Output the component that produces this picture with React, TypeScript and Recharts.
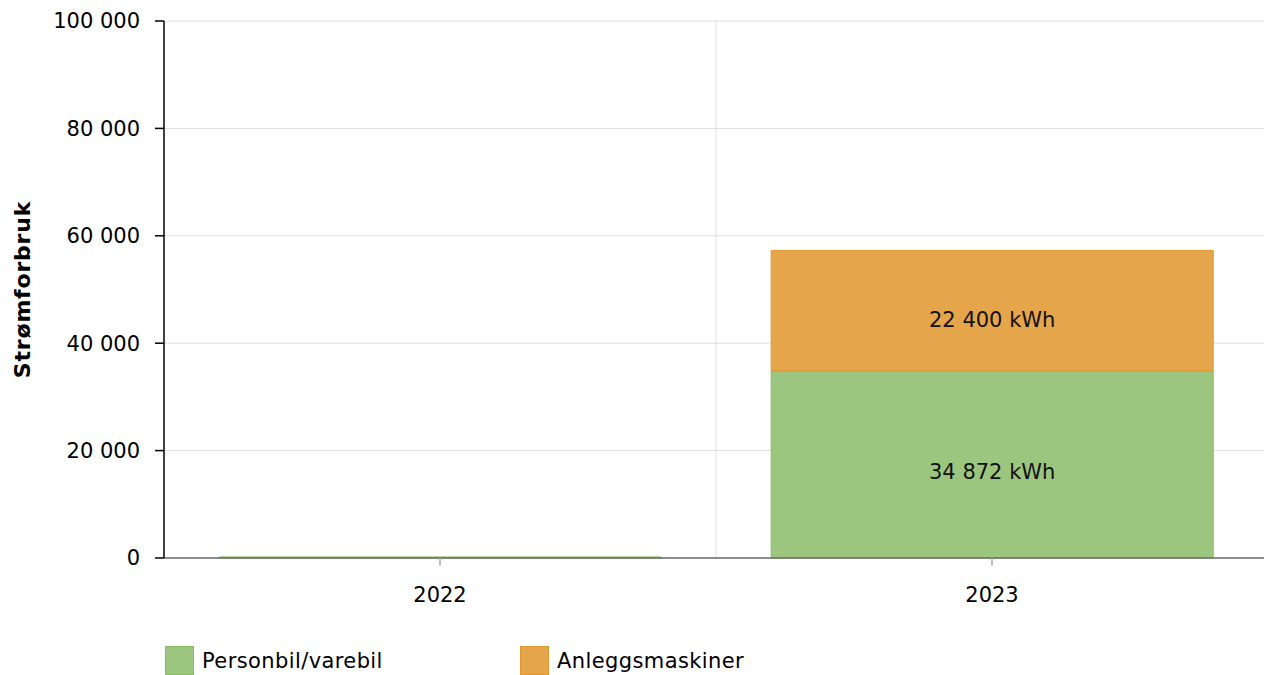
import { Bar, BarChart, CartesianGrid, LabelList, XAxis, YAxis } from "recharts";

const years = ["2022", "2023"];
const personbil = [200, 34872];
const anlegg = [0, 22400];
const yTicks = [0, 20000, 40000, 60000, 80000, 100000];

const seriesNames = ["Personbil/varebil", "Anleggsmaskiner"];
const greenFill = "#9cc67f";
const greenStroke = "#86bc62";
const orangeFill = "#e5a54b";
const orangeStroke = "#e0962f";

const data = years.map((year, i) => ({
  year,
  personbil: personbil[i],
  anlegg: anlegg[i],
}));

const font = "'DejaVu Sans', Verdana, sans-serif";

function spaced(v: number) {
  return String(Math.round(v)).replace(/\B(?=(\d{3})+(?!\d))/g, " ");
}

function kwhLabel(v: any) {
  const n = Number(v);
  if (!n || n < 5000) return "";
  return `${spaced(n)} kWh`;
}

function YLabel(props: any) {
  const vb = props.viewBox;
  const x = vb.x + 14;
  const y = vb.y + vb.height / 2;
  return (
    <text
      x={x}
      y={y}
      transform={`rotate(-90, ${x}, ${y})`}
      textAnchor="middle"
      dominantBaseline="central"
      fontWeight="bold"
      fontSize={22}
      letterSpacing={0.8}
      fill="#000"
      fontFamily={font}
    >
      Strømforbruk
    </text>
  );
}

export default function App() {
  return (
    <div style={{ position: "relative", width: 1264, height: 667, fontFamily: font }}>
      <BarChart
        width={1264}
        height={620}
        data={data}
        margin={{ top: 13, right: 4, bottom: 0, left: 0 }}
        barCategoryGap="10%"
      >
        <CartesianGrid
          stroke="#dedede"
          verticalCoordinatesGenerator={({ offset }: any) =>
            years.slice(1).map((_, i) => offset.left + (offset.width / years.length) * (i + 1))
          }
        />
        <XAxis
          dataKey="year"
          height={70}
          tickSize={8}
          tickMargin={21}
          axisLine={{ stroke: "#6b6b6b", strokeWidth: 1.5 }}
          tickLine={{ stroke: "#aaa", strokeWidth: 1.5 }}
          tick={{ fontSize: 21, fill: "#000", fontFamily: font }}
        />
        <YAxis
          width={156}
          domain={[0, 100000]}
          ticks={yTicks}
          interval={0}
          tickSize={9}
          tickMargin={15}
          tickFormatter={spaced}
          axisLine={{ stroke: "#000", strokeWidth: 1.5 }}
          tickLine={{ stroke: "#000", strokeWidth: 1.5 }}
          tick={{ fontSize: 21, fill: "#000", fontFamily: font }}
          label={<YLabel />}
        />
        <Bar
          dataKey="personbil"
          stackId="a"
          fill={greenFill}
          stroke={greenStroke}
          strokeWidth={1}
          isAnimationActive={false}
        >
          <LabelList
            dataKey="personbil"
            position="center"
            formatter={kwhLabel}
            fill="#111"
            fontSize={21}
            fontFamily={font}
            dy={7}
          />
        </Bar>
        <Bar
          dataKey="anlegg"
          stackId="a"
          fill={orangeFill}
          stroke={orangeStroke}
          strokeWidth={1}
          isAnimationActive={false}
        >
          <LabelList
            dataKey="anlegg"
            position="center"
            formatter={kwhLabel}
            fill="#111"
            fontSize={21}
            fontFamily={font}
            dy={9}
          />
        </Bar>
      </BarChart>
      <div style={{ position: "absolute", top: 638, left: 157, display: "flex" }}>
        {seriesNames.map((name, i) => (
          <div key={name} style={{ display: "flex", alignItems: "center", width: 355 }}>
            <span
              style={{
                display: "inline-block",
                width: 27,
                height: 27,
                background: i === 0 ? greenFill : orangeFill,
                border: `1px solid ${i === 0 ? greenStroke : orangeStroke}`,
                marginRight: 8,
              }}
            />
            <span style={{ fontSize: 21, color: "#000", letterSpacing: 0.4 }}>{name}</span>
          </div>
        ))}
      </div>
    </div>
  );
}
